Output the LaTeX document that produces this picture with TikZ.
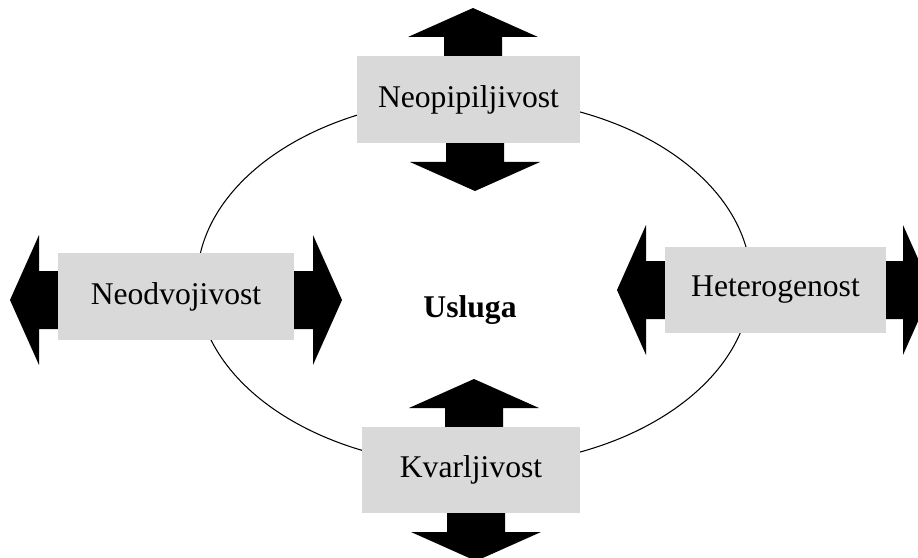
\documentclass[tikz,border=0pt]{standalone}
\usepackage{fontspec}
\setmainfont{Liberation Serif}
\usepackage{xcolor}
\usepackage{tikz}
\usetikzlibrary{positioning,calc}

\tikzset{
    prop/.style={fill=gray!30, minimum width=4.44cm, minimum height=1.74cm, inner sep=0pt,
        font=\fontsize{18}{22}\selectfont},
    blockarrow/.pic={
        \fill[black] (-2,-29) -- (19,-29) -- (19,-65) -- (48,0) -- (19,65) -- (19,29) -- (-2,29) -- cycle;
    }
}

\begin{document}
\begin{tikzpicture}[x=0.02cm, y=-0.02cm]
    \useasboundingbox (0,0) rectangle (918,557);

    % Outline
    \draw[line width=0.6pt] (474,282) ellipse [x radius=277, y radius=184];

    % Centre label
    \node[font=\fontsize{18}{22}\selectfont\bfseries] (usluga) at (470,310) {Usluga};

    % Property arrows
    \pic[rotate=90]  at (473,56)  {blockarrow};
    \pic[rotate=-90] at (475,143) {blockarrow};
    \pic[rotate=180] at (58,300)  {blockarrow};
    \pic             at (294,300) {blockarrow};
    \pic[rotate=180] at (665,290) {blockarrow};
    \pic             at (884,290) {blockarrow};
    \pic[rotate=90]  at (474,427) {blockarrow};
    \pic[rotate=-90] at (476,513) {blockarrow};

    % Property boxes
    \node[prop, minimum width=4.46cm] (neop) at (468.5,99.5) {Neopipiljivost};
    \node[prop, minimum width=4.72cm] (neod) at (176,296.5) {Neodvojivost};
    \node[prop, minimum width=4.42cm, minimum height=1.72cm] (het) at (775.5,290) {Heterogenost};
    \node[prop, minimum width=4.36cm, minimum height=1.72cm] (kvar) at (471,470) {Kvarljivost};
\end{tikzpicture}
\end{document}
